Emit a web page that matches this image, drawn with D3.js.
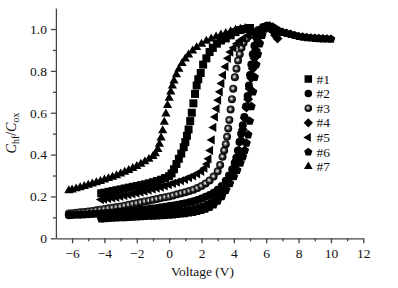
<!DOCTYPE html>
<html>
<head>
<meta charset="utf-8">
<script src="https://cdn.jsdelivr.net/npm/d3@7"></script>
<style>
  body { margin: 0; background: #fff; }
  text { font-family: "Liberation Serif", "Times New Roman", serif; fill: #111; }
</style>
</head>
<body>
<svg id="chart" width="398" height="288"></svg>
<script>
// series labels + marker shapes
const labels = ['#1', '#2', '#3', '#4', '#5', '#6', '#7']
const shapes = ['square', 'circle', 'ball', 'diamond', 'triLeft', 'pentagon', 'triUp']

const xMajor = [-6, -4, -2, 0, 2, 4, 6, 8, 10, 12]
const xMinor = [-5, -3, -1, 1, 3, 5, 7, 9, 11]
const yMajor = [0, 0.2, 0.4, 0.6, 0.8, 1.0]
const yMinor = [0.1, 0.3, 0.5, 0.7, 0.9]

// [voltage, Chf/Cox]
const s1 = [[-4.2,0.215],[-4.0,0.218],[-3.75,0.222],[-3.5,0.226],[-3.25,0.23],[-3.0,0.234],[-2.75,0.238],[-2.5,0.242],[-2.25,0.246],[-2.0,0.25],[-1.75,0.254],[-1.5,0.258],[-1.25,0.263],[-1.0,0.268],[-0.75,0.274],[-0.5,0.28],[-0.25,0.288],[0.0,0.297],[0.15,0.31],[0.3,0.33],[0.45,0.355],[0.6,0.38],[0.75,0.405],[0.9,0.435],[1.0,0.46],[1.1,0.49],[1.2,0.52],[1.3,0.56],[1.4,0.6],[1.5,0.645],[1.6,0.69],[1.7,0.73],[1.8,0.76],[1.95,0.79],[2.1,0.83],[2.3,0.86],[2.5,0.89],[2.7,0.91],[2.95,0.93],[3.2,0.945],[3.5,0.955],[3.8,0.97],[4.1,0.985],[4.4,0.995],[4.7,1.0],[5.0,1.005]]
const s2 = [[-6.2,0.11],[-6.0,0.111],[-5.75,0.112],[-5.5,0.113],[-5.25,0.114],[-5.0,0.115],[-4.75,0.116],[-4.5,0.117],[-4.25,0.118],[-4.0,0.12],[-3.75,0.121],[-3.5,0.122],[-3.25,0.124],[-3.0,0.126],[-2.75,0.128],[-2.5,0.13],[-2.25,0.132],[-2.0,0.134],[-1.75,0.136],[-1.5,0.138],[-1.25,0.14],[-1.0,0.142],[-0.75,0.145],[-0.5,0.148],[-0.25,0.151],[0.0,0.154],[0.25,0.157],[0.5,0.16],[0.75,0.164],[1.0,0.168],[1.25,0.172],[1.5,0.177],[1.75,0.183],[2.0,0.19],[2.25,0.198],[2.5,0.207],[2.75,0.218],[3.0,0.232],[3.25,0.25],[3.5,0.275],[3.7,0.3],[3.9,0.33],[4.05,0.36],[4.15,0.385],[4.25,0.42],[4.35,0.46],[4.45,0.5],[4.55,0.54],[4.65,0.58],[4.75,0.63],[4.85,0.68],[4.93,0.73],[5.0,0.78],[5.08,0.83],[5.17,0.88],[5.27,0.92],[5.4,0.96],[5.6,0.99],[5.8,1.01],[6.0,1.015],[6.2,1.01]]
const s3 = [[-6.2,0.118],[-6.0,0.12],[-5.75,0.122],[-5.5,0.124],[-5.25,0.126],[-5.0,0.128],[-4.75,0.131],[-4.5,0.134],[-4.25,0.137],[-4.0,0.14],[-3.75,0.143],[-3.5,0.146],[-3.25,0.149],[-3.0,0.152],[-2.75,0.156],[-2.5,0.16],[-2.25,0.164],[-2.0,0.168],[-1.75,0.172],[-1.5,0.176],[-1.25,0.18],[-1.0,0.184],[-0.75,0.188],[-0.5,0.192],[-0.25,0.196],[0.0,0.2],[0.25,0.205],[0.5,0.21],[0.75,0.215],[1.0,0.22],[1.25,0.226],[1.5,0.232],[1.75,0.24],[2.0,0.25],[2.25,0.262],[2.5,0.276],[2.75,0.295],[3.0,0.32],[3.15,0.35],[3.3,0.39],[3.4,0.42],[3.5,0.45],[3.58,0.485],[3.65,0.525],[3.72,0.565],[3.8,0.615],[3.88,0.665],[3.96,0.715],[4.06,0.77],[4.16,0.81],[4.26,0.85],[4.36,0.88],[4.47,0.91],[4.6,0.935],[4.78,0.955],[5.0,0.97],[5.25,0.985],[5.5,0.995],[5.75,1.0]]
const s4 = [[-4.2,0.105],[-4.0,0.106],[-3.75,0.107],[-3.5,0.108],[-3.25,0.109],[-3.0,0.11],[-2.75,0.111],[-2.5,0.112],[-2.25,0.113],[-2.0,0.114],[-1.75,0.115],[-1.5,0.116],[-1.25,0.117],[-1.0,0.118],[-0.75,0.119],[-0.5,0.12],[-0.25,0.122],[0.0,0.124],[0.25,0.126],[0.5,0.128],[0.75,0.13],[1.0,0.133],[1.25,0.136],[1.5,0.14],[1.75,0.145],[2.0,0.151],[2.25,0.158],[2.5,0.167],[2.75,0.178],[3.0,0.192],[3.25,0.21],[3.5,0.235],[3.7,0.265],[3.9,0.3],[4.05,0.335],[4.2,0.375],[4.32,0.42],[4.44,0.47],[4.55,0.52],[4.67,0.575],[4.78,0.625],[4.88,0.665],[4.98,0.715],[5.08,0.765],[5.17,0.81],[5.27,0.86],[5.37,0.9],[5.5,0.94],[5.65,0.97],[5.8,0.995],[6.0,1.01],[6.2,1.005],[6.4,0.99],[6.55,0.97],[6.7,0.955]]
const s5 = [[-4.2,0.185],[-4.0,0.187],[-3.75,0.19],[-3.5,0.193],[-3.25,0.196],[-3.0,0.2],[-2.75,0.204],[-2.5,0.208],[-2.25,0.212],[-2.0,0.216],[-1.75,0.22],[-1.5,0.225],[-1.25,0.23],[-1.0,0.235],[-0.75,0.24],[-0.5,0.245],[-0.25,0.25],[0.0,0.256],[0.25,0.262],[0.5,0.268],[0.75,0.275],[1.0,0.282],[1.25,0.29],[1.5,0.298],[1.75,0.308],[2.0,0.32],[2.2,0.335],[2.35,0.355],[2.45,0.38],[2.55,0.42],[2.65,0.47],[2.75,0.53],[2.85,0.58],[2.95,0.62],[3.05,0.66],[3.15,0.7],[3.25,0.74],[3.35,0.78],[3.5,0.82],[3.65,0.86],[3.8,0.89],[4.0,0.91],[4.2,0.93],[4.4,0.945],[4.6,0.955],[4.9,0.97],[5.2,0.985],[5.5,0.995]]
const s6 = [[-4.2,0.094],[-4.0,0.095],[-3.75,0.096],[-3.5,0.097],[-3.25,0.098],[-3.0,0.099],[-2.75,0.1],[-2.5,0.101],[-2.25,0.102],[-2.0,0.103],[-1.75,0.104],[-1.5,0.105],[-1.25,0.106],[-1.0,0.107],[-0.75,0.108],[-0.5,0.109],[-0.25,0.11],[0.0,0.111],[0.25,0.113],[0.5,0.115],[0.75,0.117],[1.0,0.119],[1.25,0.122],[1.5,0.125],[1.75,0.129],[2.0,0.134],[2.25,0.14],[2.5,0.148],[2.75,0.16],[3.0,0.178],[3.25,0.2],[3.5,0.23],[3.75,0.262],[4.0,0.295],[4.2,0.325],[4.4,0.36],[4.55,0.39],[4.67,0.42],[4.78,0.455],[4.88,0.495],[4.98,0.56],[5.08,0.63],[5.18,0.7],[5.28,0.77],[5.38,0.83],[5.48,0.88],[5.6,0.93],[5.75,0.97],[5.9,1.0],[6.05,1.015],[6.2,1.015],[6.4,1.01],[6.6,1.0],[6.8,0.99],[7.0,0.985],[7.25,0.98],[7.5,0.975],[7.75,0.97],[8.0,0.965],[8.25,0.962],[8.5,0.96],[8.75,0.958],[9.0,0.956],[9.25,0.955],[9.5,0.954],[9.75,0.953],[10.0,0.952]]
const s7 = [[-6.2,0.228],[-6.0,0.232],[-5.75,0.237],[-5.5,0.242],[-5.25,0.248],[-5.0,0.254],[-4.75,0.26],[-4.5,0.266],[-4.25,0.272],[-4.0,0.279],[-3.75,0.286],[-3.5,0.293],[-3.25,0.3],[-3.0,0.308],[-2.75,0.316],[-2.5,0.325],[-2.25,0.334],[-2.0,0.344],[-1.75,0.355],[-1.5,0.366],[-1.25,0.378],[-1.0,0.392],[-0.85,0.405],[-0.7,0.425],[-0.6,0.45],[-0.5,0.48],[-0.4,0.515],[-0.3,0.555],[-0.2,0.595],[-0.1,0.635],[0.0,0.67],[0.1,0.7],[0.2,0.728],[0.3,0.752],[0.45,0.782],[0.6,0.808],[0.8,0.836],[1.0,0.858],[1.2,0.877],[1.45,0.896],[1.7,0.912],[2.0,0.928],[2.3,0.942],[2.6,0.953],[2.9,0.963],[3.2,0.972],[3.5,0.98],[3.8,0.988],[4.1,0.995],[4.4,1.0],[4.7,1.003]]

const series = [s1, s2, s3, s4, s5, s6, s7]
const drawOrder = [2, 1, 5, 3, 0, 4, 6]

const svg = d3.select('#chart')
const x = d3.scaleLinear().domain([-7, 12]).range([55.9, 363.3])
const y = d3.scaleLinear().domain([0, 1.1]).range([238.3, 8.1])

// shaded ball for #3
const grad = svg.append('defs').append('radialGradient')
  .attr('id', 'ball').attr('cx', 0.45).attr('cy', 0.45).attr('r', 0.55)
grad.append('stop').attr('offset', '0%').attr('stop-color', '#fff')
grad.append('stop').attr('offset', '22%').attr('stop-color', '#aaa')
grad.append('stop').attr('offset', '55%').attr('stop-color', '#222')
grad.append('stop').attr('offset', '100%').attr('stop-color', '#000')

// marker paths, centred on 0,0
function shapePath (kind, s) {
  const p = d3.path()
  if (kind === 'square') {
    p.rect(-s / 2, -s / 2, s, s)
  } else if (kind === 'circle' || kind === 'ball') {
    p.arc(0, 0, s / 2, 0, 2 * Math.PI)
  } else if (kind === 'diamond') {
    const r = s * 0.62
    p.moveTo(0, -r); p.lineTo(r, 0); p.lineTo(0, r); p.lineTo(-r, 0); p.closePath()
  } else if (kind === 'triLeft' || kind === 'triUp') {
    const a = s * 1.15
    const h = a * Math.sqrt(3) / 2
    if (kind === 'triUp') {
      p.moveTo(0, -2 * h / 3); p.lineTo(a / 2, h / 3); p.lineTo(-a / 2, h / 3)
    } else {
      p.moveTo(-2 * h / 3, 0); p.lineTo(h / 3, -a / 2); p.lineTo(h / 3, a / 2)
    }
    p.closePath()
  } else if (kind === 'pentagon') {
    const r = s * 0.58
    for (let i = 0; i < 5; i++) {
      const t = -Math.PI / 2 + i * 2 * Math.PI / 5
      if (i === 0) p.moveTo(r * Math.cos(t), r * Math.sin(t))
      else p.lineTo(r * Math.cos(t), r * Math.sin(t))
    }
    p.closePath()
  }
  return p.toString()
}
const fillOf = kind => kind === 'ball' ? 'url(#ball)' : '#000'

// axes
const gx = svg.append('g').attr('transform', `translate(0,${y(0)})`)
gx.call(d3.axisBottom(x).tickValues(xMajor).tickSize(5).tickSizeOuter(0)
  .tickFormat(d => d < 0 ? '\u2212' + Math.abs(d) : d))
gx.append('g').call(d3.axisBottom(x).tickValues(xMinor).tickSize(3).tickFormat(''))
  .select('.domain').remove()

const gy = svg.append('g').attr('transform', `translate(${x(-7)},0)`)
gy.call(d3.axisLeft(y).tickValues(yMajor).tickSize(5).tickSizeOuter(0)
  .tickFormat(d => d === 0 ? '0' : d3.format('.1f')(d)))
gy.append('g').call(d3.axisLeft(y).tickValues(yMinor).tickSize(3).tickFormat(''))
  .select('.domain').remove()

svg.selectAll('.domain, .tick line').attr('stroke', '#444').attr('stroke-width', 1.3)
svg.selectAll('.tick text').attr('font-size', 13.5).attr('fill', '#111')
gx.selectAll('.tick text').attr('dy', '0.9em')
gy.selectAll('.tick text').attr('dx', '-1px')

// data markers
drawOrder.forEach(i => {
  svg.append('g').selectAll('path').data(series[i]).join('path')
    .attr('transform', d => `translate(${x(d[0])},${y(d[1])})`)
    .attr('d', shapePath(shapes[i], 8))
    .attr('fill', fillOf(shapes[i]))
})

// legend
const lg = svg.append('g')
labels.forEach((lab, i) => {
  const cy = 79 + i * 14.6
  lg.append('path').attr('transform', `translate(308.3,${cy})`)
    .attr('d', shapePath(shapes[i], 7.5)).attr('fill', fillOf(shapes[i]))
  lg.append('text').attr('x', 316.5).attr('y', cy + 4.6)
    .attr('font-size', 13.5).text(lab)
})

// axis titles
svg.append('text').attr('x', 202.5).attr('y', 276).attr('text-anchor', 'middle')
  .attr('font-size', 13.5).text('Voltage (V)')

const yt = svg.append('text').attr('transform', 'translate(16,133) rotate(-90)')
  .attr('text-anchor', 'middle').attr('font-size', 14)
yt.append('tspan').attr('font-style', 'italic').text('C')
yt.append('tspan').attr('font-size', 10).attr('dy', 3).text('hf')
yt.append('tspan').attr('dy', -3).text('/')
yt.append('tspan').attr('font-style', 'italic').text('C')
yt.append('tspan').attr('font-size', 10).attr('dy', 3).text('ox')
</script>
</body>
</html>
